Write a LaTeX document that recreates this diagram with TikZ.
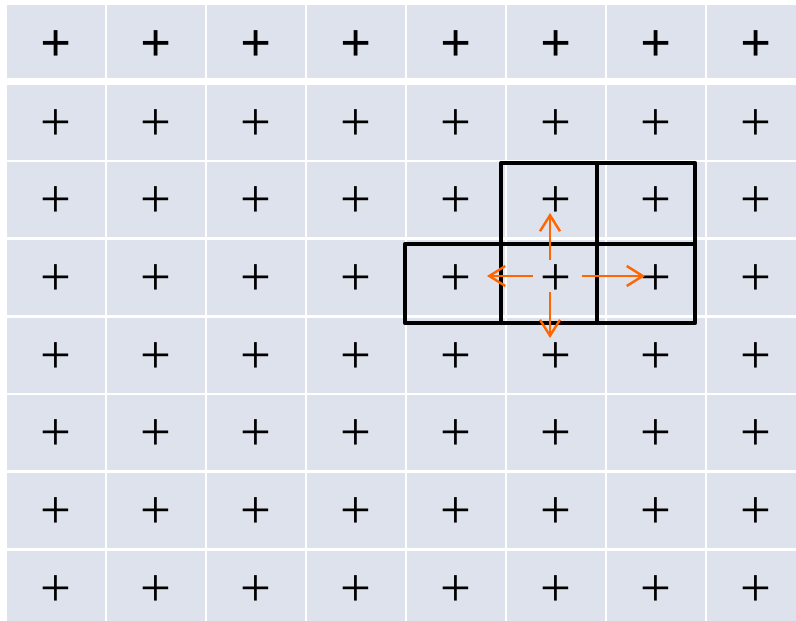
\documentclass[tikz,border=0pt]{standalone}
\usepackage{fontspec}
\newfontfamily\signo{Liberation Serif}
\usetikzlibrary{arrows.meta,calc}
\definecolor{celda}{RGB}{222,226,237}
\definecolor{naranja}{RGB}{255,102,0}

\begin{document}
\begin{tikzpicture}[x=0.75pt, y=-0.75pt,
    celda/.style={rectangle, fill=celda, inner sep=0pt, minimum width=73.5pt, minimum height=56.25pt, text height=27pt, text depth=0pt, font=\signo\fontsize{41}{41}\selectfont},
    cabecera/.style={minimum height=54.75pt, text height=30pt, font=\signo\bfseries\fontsize{41}{41}\selectfont},
    marco/.style={line width=3.4pt, line join=round},
    flecha/.style={draw=naranja, line width=1.8pt, -{Straight Barb[length=12pt, width=15pt]}}]

        \useasboundingbox (0,0) rectangle (796,621);
        \clip (0,0) rectangle (796,621);

        % Celdas
        \foreach \c in {0,...,7} {
            \node[celda, cabecera] (c\c-0) at (56+100*\c, 41.5) {+};
            \foreach \f in {1,...,7}
                \node[celda] (c\c-\f) at (56+100*\c, 122+77.7*\f-77.7) {+};
        }

        % Bloque marcado
        \draw[marco] (501,163) rectangle (695,244);
        \draw[marco] (405,244) rectangle (695,323);
        \draw[marco] (501,163) -- (501,323);
        \draw[marco] (597,163) -- (597,323);

        % Flechas
        \coordinate (o) at (550,276);
        \draw[flecha] ($(o)+(0,-16)$) -- ($(o)+(0,-63)$);
        \draw[flecha] ($(o)+(0,16)$) -- ($(o)+(0,62)$);
        \draw[flecha] ($(o)+(-17,0)$) -- ($(o)+(-63,0)$);
        \draw[flecha] ($(o)+(32,0)$) -- ($(o)+(95,0)$);

    \end{tikzpicture}
\end{document}
